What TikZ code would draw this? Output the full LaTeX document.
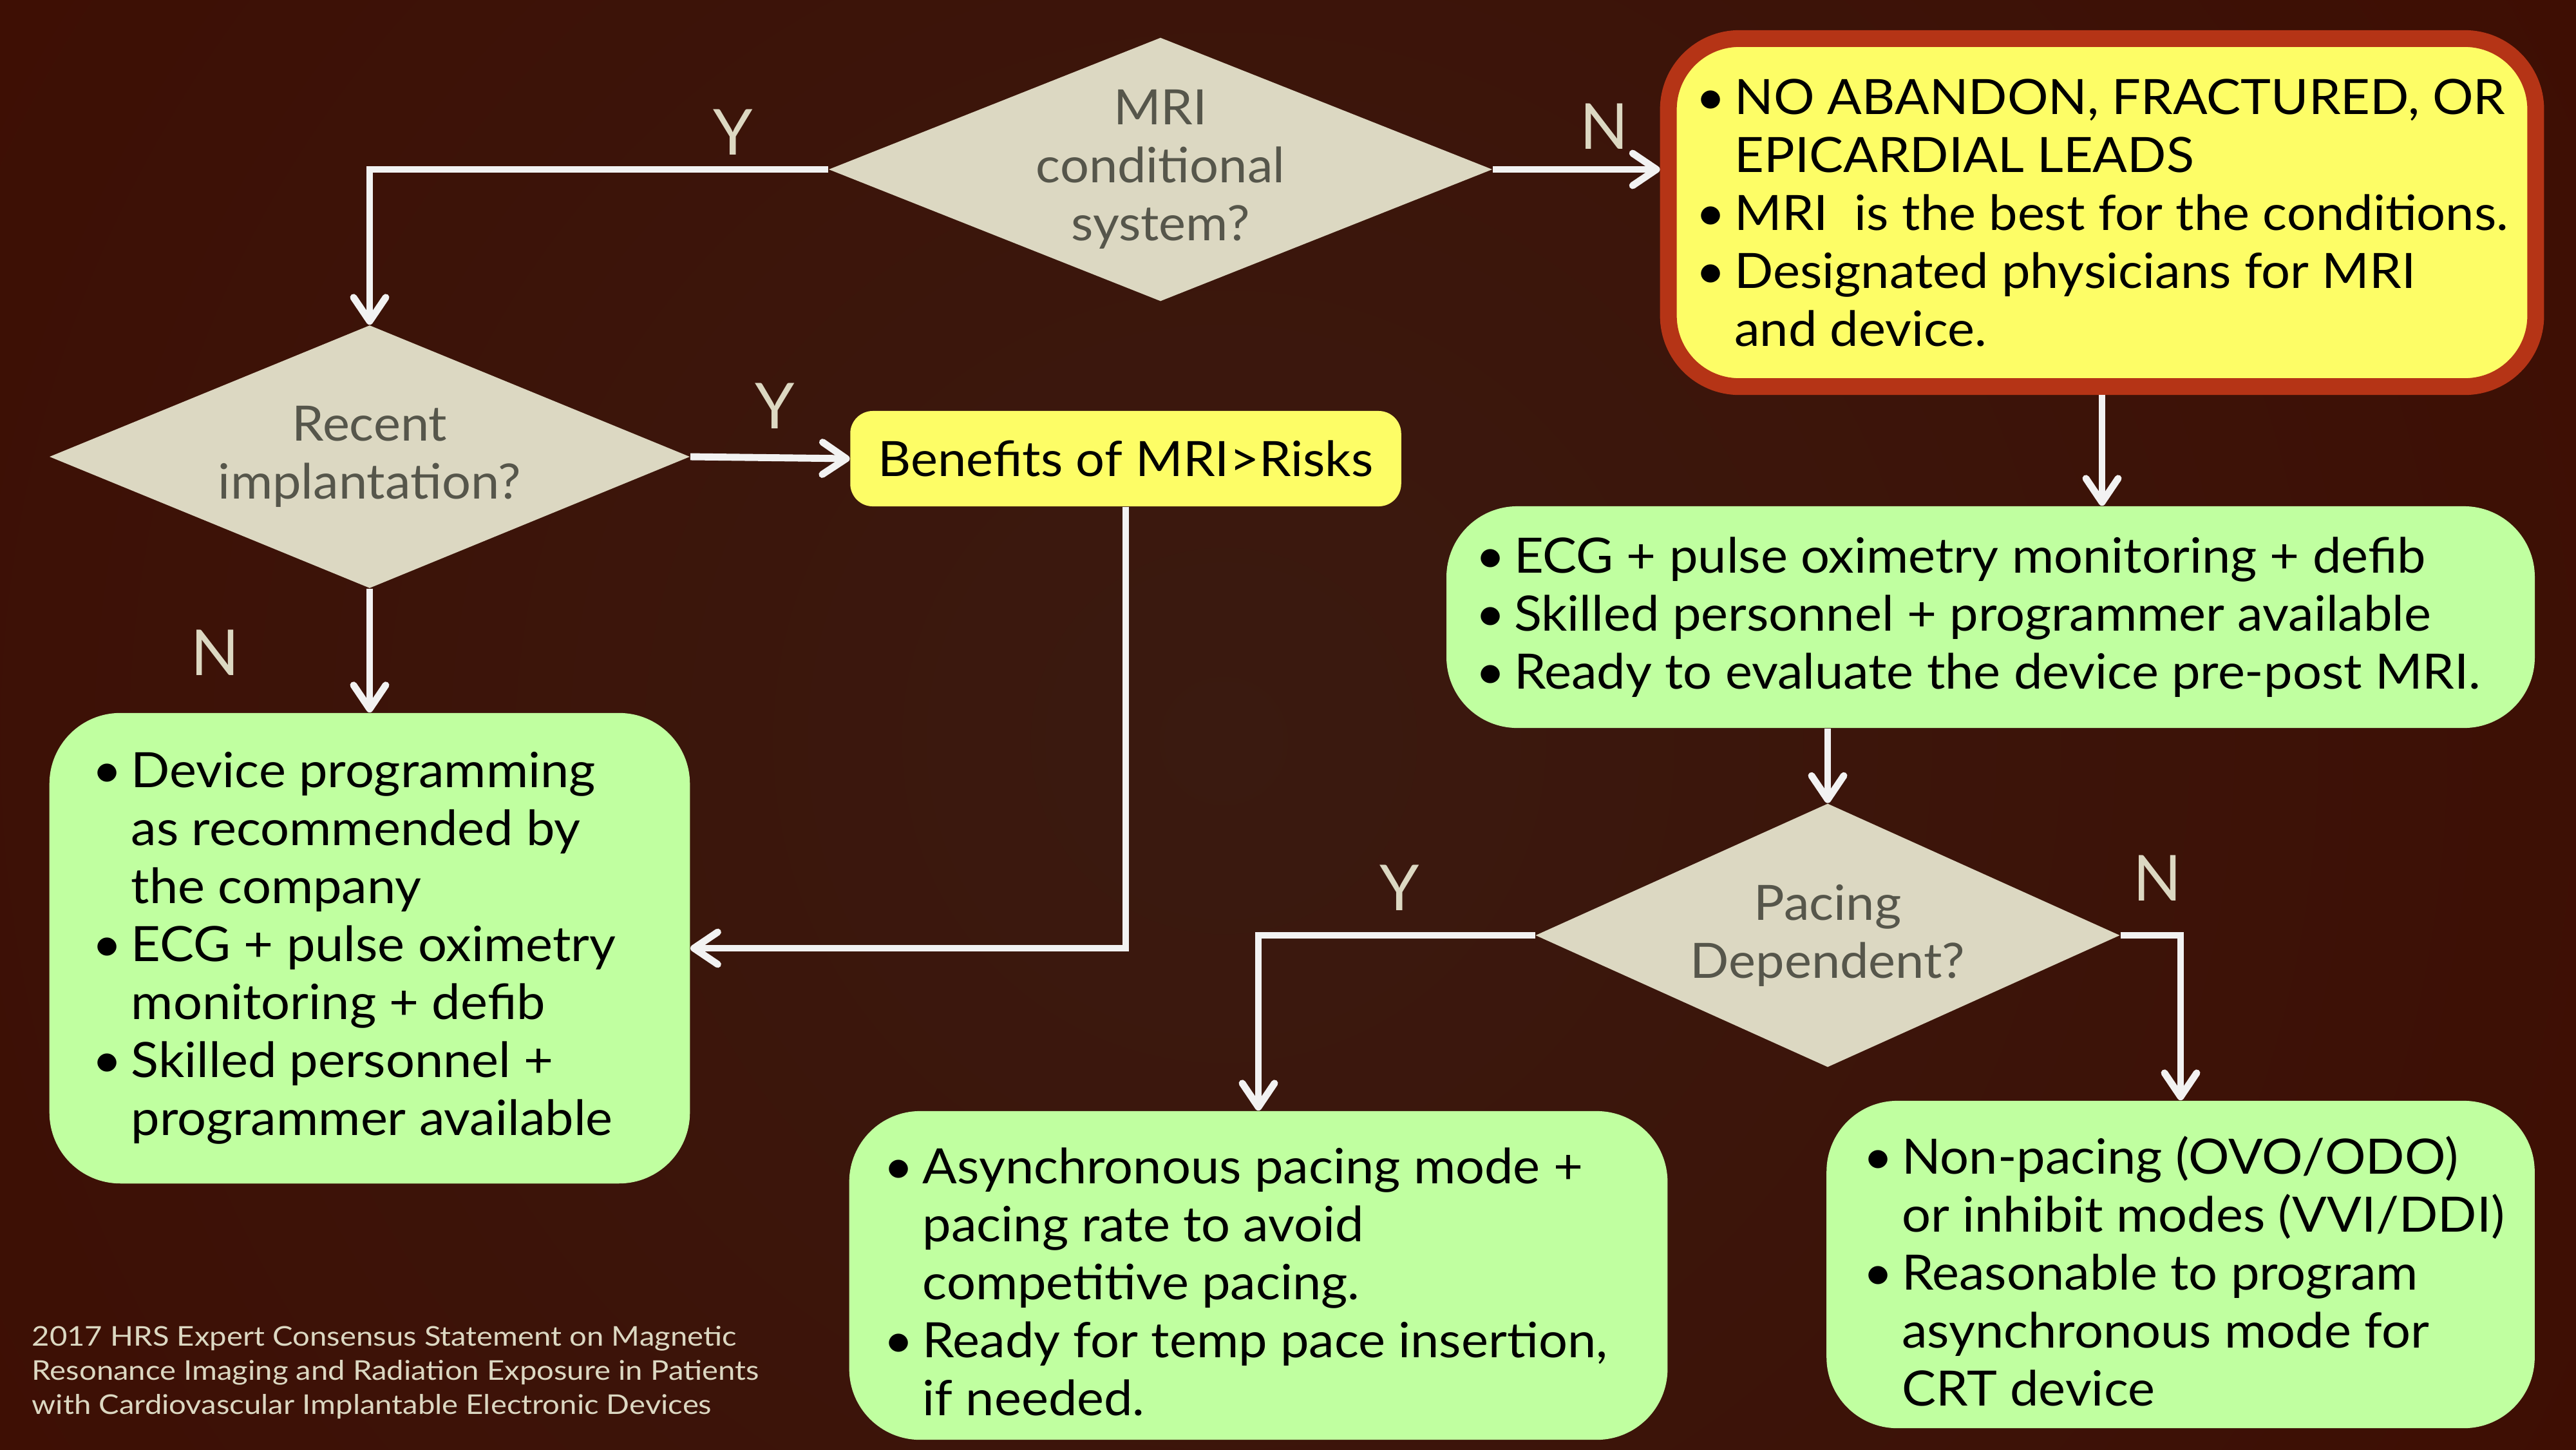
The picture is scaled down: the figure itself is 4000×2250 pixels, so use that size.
\documentclass[tikz,border=0pt]{standalone}
\usepackage{fontspec}
\setmainfont{Lato}
\newfontfamily\widefont[FakeStretch=1.05]{Lato}
\newfontfamily\notefont[FakeStretch=1.12]{Lato}
\usetikzlibrary{shapes.geometric,arrows.meta}

\definecolor{bgin}{HTML}{3A1A10}
\definecolor{bgout}{HTML}{3E0E03}
\definecolor{stone}{HTML}{DCD8C2}
\definecolor{slate}{HTML}{56564B}
\definecolor{lime}{HTML}{C0FFA0}
\definecolor{lemon}{HTML}{FDFD66}
\definecolor{rust}{HTML}{B53416}
\definecolor{chalk}{HTML}{F2F2F2}

\newcommand{\boxfont}{\widefont\fontsize{21.5}{25.6}\selectfont}
\newcommand{\itm}{\makebox[0.6cm][l]{\textbullet}}
\newcommand{\cnt}{\hspace*{0.6cm}}

\begin{document}
\begin{tikzpicture}[x=0.01cm,y=-0.01cm]
\tikzset{every node/.style={inner sep=0pt}}
\tikzset{decision/.style={diamond,fill=stone}}
\tikzset{asktext/.style={align=center,font=\boxfont,text=slate}}
\tikzset{greenbox/.style={fill=lime,rounded corners=1.1cm}}
\tikzset{listtext/.style={align=left,font=\boxfont,text=black,anchor=west}}
\tikzset{tag/.style={font=\fontsize{28}{34}\selectfont,text=stone}}
\tikzset{flow/.style={draw=chalk,line width=3.1pt,-{Straight Barb[length=0.37cm,width=0.5cm,round]}}}

% background
\useasboundingbox (0,0) rectangle (4000,2250);
\begin{scope}
\clip (0,0) rectangle (4000,2250);
\fill[bgout] (0,0) rectangle (4000,2250);
\shade[inner color=bgin,outer color=bgout] (1900,1150) circle (2400);
\end{scope}

% decisions
\node[decision,minimum width=10.30cm,minimum height=4.09cm] (mri) at (1802,263) {};
\node[asktext] (mrit) at (mri) {MRI\\conditional\\system?};
\node[decision,minimum width=9.94cm,minimum height=4.08cm] (rec) at (574,709) {};
\node[asktext] (rect) at (rec) {Recent\\implantation?};
\node[decision,minimum width=9.07cm,minimum height=4.09cm] (pace) at (2838,1452) {};
\node[asktext] (pacet) at (pace) {Pacing\\Dependent?};

% boxes
\node[fill=lemon,draw=rust,line width=0.26cm,rounded corners=1.1cm,
  minimum width=13.46cm,minimum height=5.40cm] (warn) at (3264,330) {};
\node[listtext] (warnt) at ([xshift=0.55cm]warn.west) {\itm NO ABANDON, FRACTURED, OR\\
  \cnt EPICARDIAL LEADS\\
  \itm MRI\ \ is the best for the conditions.\\
  \itm Designated physicians for MRI\\
  \cnt and device.};
\node[fill=lemon,rounded corners=0.35cm,minimum width=8.55cm,minimum height=1.48cm,
  font=\boxfont] (ben) at (1748,712) {Benefits of MRI>Risks};

\node[greenbox,minimum width=9.94cm,minimum height=7.30cm] (prog) at (574,1472) {};
\node[listtext] (progt) at ([xshift=0.67cm]prog.west) {\itm Device programming\\
  \cnt as recommended by\\
  \cnt the company\\
  \itm ECG + pulse oximetry\\
  \cnt monitoring + defib\\
  \itm Skilled personnel +\\
  \cnt programmer available};

\node[greenbox,minimum width=16.89cm,minimum height=3.44cm] (mon) at (3091,958) {};
\node[listtext] (mont) at ([xshift=0.45cm]mon.west) {\itm ECG + pulse oximetry monitoring + defib\\
  \itm Skilled personnel + programmer available\\
  \itm Ready to evaluate the device pre-post MRI.};

\node[greenbox,minimum width=12.70cm,minimum height=5.10cm] (async) at (1954,1980) {};
\node[listtext] (asynct) at ([xshift=0.54cm,yshift=-0.1cm]async.west) {\itm Asynchronous pacing mode +\\
  \cnt pacing rate to avoid\\
  \cnt competitive pacing.\\
  \itm Ready for temp pace insertion,\\
  \cnt if needed.};

\node[greenbox,minimum width=10.99cm,minimum height=5.08cm] (nopace) at (3386,1963) {};
\node[listtext] (nopacet) at ([xshift=0.57cm,yshift=-0.1cm]nopace.west) {\itm Non-pacing (OVO/ODO)\\
  \cnt or inhibit modes (VVI/DDI)\\
  \itm Reasonable to program\\
  \cnt asynchronous mode for\\
  \cnt CRT device};

% connectors
\draw[flow] (mri.west) -| (rec.north);
\draw[flow] (mri.east) -- (mri.east -| warn.west);
\draw[flow] (rec.east) -- (ben.west);
\draw[flow] (rec.south) -- (prog.north);
\draw[flow] (ben.south) |- (prog.east);
\draw[flow] (warn.south) -- (warn.south |- mon.north);
\draw[flow] (pace.north |- mon.south) -- (pace.north);
\draw[flow] (pace.west) -| (async.north);
\draw[flow] (pace.east) -| (nopace.north);

% Y / N
\node[tag] (y1) at (1138,205) {Y};
\node[tag] (n1) at (2491,196) {N};
\node[tag] (y2) at (1203,630) {Y};
\node[tag] (n2) at (334,1013) {N};
\node[tag] (y3) at (2173,1378) {Y};
\node[tag] (n3) at (3350,1363) {N};

\node[align=left,anchor=west,text=stone,font=\notefont\fontsize{12}{15.1}\selectfont] (src) at (49,2131)
  {2017 HRS Expert Consensus Statement on Magnetic\\
   Resonance Imaging and Radiation Exposure in Patients\\
   with Cardiovascular Implantable Electronic Devices};
\end{tikzpicture}
\end{document}
